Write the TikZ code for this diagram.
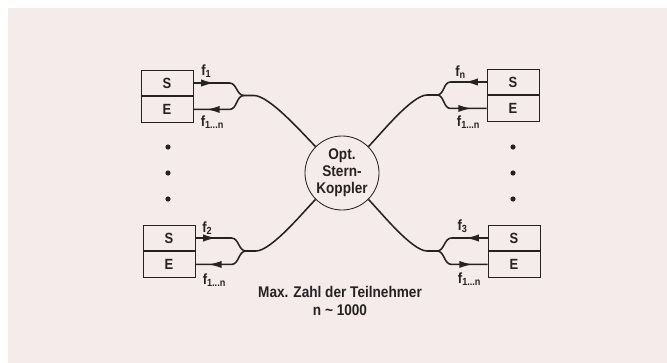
\documentclass[tikz,border=0pt]{standalone}
\usepackage{fontspec}
\setmainfont{Liberation Sans}[FakeStretch=0.88]
\usepackage{tikz}
\usetikzlibrary{arrows.meta,calc,positioning}
\definecolor{papier}{RGB}{245,235,235}
\definecolor{tinte}{RGB}{38,34,36}
\tikzstyle{box} = [rectangle, minimum width=1.3cm, minimum height=0.64cm, draw=tinte, line width=0.6pt, text=tinte, inner sep=0pt, font=\fontsize{10.5}{12}\selectfont\bfseries]
\tikzstyle{koppler} = [circle, minimum size=1.85cm, draw=tinte, line width=0.6pt, fill=papier, text=tinte, inner sep=0pt, align=center, font=\fontsize{11}{12.2}\selectfont\bfseries]
\tikzstyle{faser} = [line width=1.1pt, draw=tinte]
\tikzstyle{pfeil} = [faser, -{Latex[length=0.33cm,width=0.18cm]}]
\tikzstyle{freq} = [text=tinte, inner sep=0pt, font=\fontsize{10.5}{12}\selectfont\bfseries]

\begin{document}
\begin{tikzpicture}[x=0.025cm, y=-0.025cm]
    \useasboundingbox (0,0) rectangle (667,363);
    \fill[white] (0,0) rectangle (667,363);
    \fill[papier] (8,8) rectangle (667,363);

    % Stern-Koppler in der Mitte
    \node (stern) [koppler] at (342,173) {Opt.\\Stern-\\Koppler};

    % Teilnehmer links
    \node (s1) [box] at (167,83) {S};
    \node (e1) [box, below=0pt of s1] {E};
    \node (s2) [box] at (169,238) {S};
    \node (e2) [box, below=0pt of s2] {E};

    % Teilnehmer rechts
    \node (sn) [box] at (513,82) {S};
    \node (en) [box, below=0pt of sn] {E};
    \node (s3) [box] at (514,238) {S};
    \node (e3) [box, below=0pt of s3] {E};

    \coordinate (j1) at (244,95.5);
    \coordinate (j2) at (246,251);
    \coordinate (jn) at (437,95);
    \coordinate (j3) at (437,251);

    % Fasern
    \draw[faser] (s1.east) -- ++(36,0) to[out=0,in=180] (j1);
    \draw[faser] (e1.east) -- ++(36,0) to[out=0,in=180] (j1);
    \draw[faser] (j1) -- ++(10,0) to[out=0,in=135,looseness=0.5] (stern.135);

    \draw[faser] (s2.east) -- ++(36,0) to[out=0,in=180] (j2);
    \draw[faser] (e2.east) -- ++(36,0) to[out=0,in=180] (j2);
    \draw[faser] (j2) -- ++(10,0) to[out=0,in=-135,looseness=0.5] (stern.-135);

    \draw[faser] (sn.west) -- ++(-36,0) to[out=180,in=0] (jn);
    \draw[faser] (en.west) -- ++(-36,0) to[out=180,in=0] (jn);
    \draw[faser] (jn) -- ++(-10,0) to[out=180,in=45,looseness=0.5] (stern.45);

    \draw[faser] (s3.west) -- ++(-36,0) to[out=180,in=0] (j3);
    \draw[faser] (e3.west) -- ++(-36,0) to[out=180,in=0] (j3);
    \draw[faser] (j3) -- ++(-10,0) to[out=180,in=-45,looseness=0.5] (stern.-45);

    % Pfeile: S sendet, E empfaengt
    \draw[pfeil] (s1.east) -- ++(21,0);
    \draw[pfeil] ($(e1.east)+(30,0)$) -- ++(-17,0);
    \draw[pfeil] (s2.east) -- ++(21,0);
    \draw[pfeil] ($(e2.east)+(30,0)$) -- ++(-17,0);
    \draw[pfeil] (sn.west) -- ++(-22,0);
    \draw[pfeil] ($(en.west)+(-31,0)$) -- ++(16,0);
    \draw[pfeil] (s3.west) -- ++(-22,0);
    \draw[pfeil] ($(e3.west)+(-31,0)$) -- ++(16,0);

    % Frequenzen
    \node (lf1) [freq] at ($(s1.east)+(13,-12)$) {f\textsubscript{1}};
    \node (lr1) [freq] at ($(e1.east)+(19,13)$) {f\textsubscript{1...n}};
    \node (lf2) [freq] at ($(s2.east)+(12,-10)$) {f\textsubscript{2}};
    \node (lr2) [freq] at ($(e2.east)+(19,16)$) {f\textsubscript{1...n}};
    \node (lfn) [freq] at ($(sn.west)+(-26,-10)$) {f\textsubscript{n}};
    \node (lrn) [freq] at ($(en.west)+(-18,14)$) {f\textsubscript{1...n}};
    \node (lf3) [freq] at ($(s3.west)+(-25,-12)$) {f\textsubscript{3}};
    \node (lr3) [freq] at ($(e3.west)+(-18,15)$) {f\textsubscript{1...n}};

    % weitere Teilnehmer
    \foreach \y in {147,173,199} {
        \fill[tinte] (168,\y) circle (2.6);
        \fill[tinte] (513,\y) circle (2.6);
    }

    \node (anzahl) [text=tinte, align=center, font=\fontsize{11}{12.2}\selectfont\bfseries] at (340,301) {Max. Zahl der Teilnehmer\\n \textasciitilde{} 1000};
\end{tikzpicture}
\end{document}
